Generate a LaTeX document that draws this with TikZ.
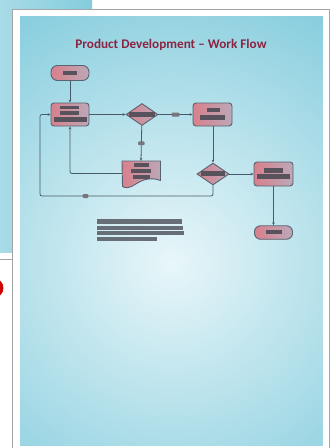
\documentclass[tikz,border=0pt]{standalone}
\usepackage{fontspec}
\setmainfont{Carlito}
\usetikzlibrary{shapes.geometric,arrows.meta}
\definecolor{bgblue}{RGB}{122,200,218}
\definecolor{bglight}{RGB}{232,246,249}
\definecolor{backl}{RGB}{168,219,230}
\definecolor{backr}{RGB}{132,205,221}
\definecolor{nodeL}{RGB}{216,128,140}
\definecolor{nodeR}{RGB}{188,168,184}
\definecolor{nodeB}{RGB}{88,98,112}
\definecolor{lineC}{RGB}{72,90,106}
\definecolor{blob}{RGB}{88,82,92}
\definecolor{para}{RGB}{104,110,118}
\definecolor{titleC}{RGB}{138,36,66}
\definecolor{frameC}{RGB}{165,165,165}
\tikzset{
  nodebase/.style={draw=nodeB, line width=0.9pt, left color=nodeL, right color=nodeR, inner sep=0pt},
  term/.style={nodebase, rectangle, rounded corners=6.5pt},
  procbox/.style={nodebase, rectangle, rounded corners=3pt},
  decision/.style={nodebase, diamond},
  conn/.style={draw=lineC, line width=0.8pt, -{Stealth[length=3pt,width=2.6pt]}, rounded corners=2pt},
  txtbar/.style={fill=blob, draw=none},
  elbl/.style={fill=blob!80, draw=none, inner sep=0pt, rounded corners=1pt},
  parabar/.style={fill=para, draw=none}
}
\begin{document}
\begin{tikzpicture}[x=1pt,y=-1pt]
\useasboundingbox (0,0) rectangle (335,448);
\fill[white] (0,0) rectangle (335,448);
% back page
\shade[left color=backl, right color=backr] (0,0) rectangle (92,252);
\draw[frameC, line width=0.8pt] (0,259) -- (12,259);
\fill[red!80!black] (-6,288) circle (9.5);
% main frame
\fill[white] (12,9) rectangle (330,452);
\draw[frameC, line width=0.8pt] (12,452) -- (12,9) -- (329.5,9) -- (329.5,452);
% blue page
\begin{scope}
\clip (20,16) rectangle (322.5,445);
\fill[bgblue] (20,16) rectangle (322.5,445);
\shade[inner color=bglight, outer color=bgblue] (172,262) circle (330);
\end{scope}
% title
\node (title) at (171,44.5) {\fontsize{13.2}{15}\selectfont\bfseries\color{titleC}Product Development – Work Flow};
% nodes
\node[term, minimum width=38pt, minimum height=15pt] (start) at (70,73) {};
\node[procbox, minimum width=38pt, minimum height=23pt] (b1) at (70,114.5) {};
\node[decision, minimum width=32pt, minimum height=22pt] (d1) at (142,114.5) {};
\node[procbox, minimum width=39pt, minimum height=23pt] (b2) at (212.5,114.5) {};
\node[decision, minimum width=32pt, minimum height=22pt] (d2) at (213,174) {};
\node[procbox, minimum width=39pt, minimum height=24pt] (b3) at (273.5,174) {};
\node[term, minimum width=38pt, minimum height=13.5pt, rounded corners=6pt] (end) at (273.5,232.5) {};
\node[draw=none, minimum width=38pt, minimum height=25pt, inner sep=0pt] (doc) at (141,173.5) {};
\path[nodebase] (122,161) -- (160.5,161) -- (160.5,180.5)
  .. controls (150,176.5) and (142,180) .. (135,184.5)
  .. controls (130,188) and (125,188.5) .. (122.5,186.5) -- cycle;
% text blobs in nodes
\fill[txtbar] (63,71) rectangle (77,75.2);
\fill[txtbar] (60,105.8) rectangle (79,109.4);
\fill[txtbar] (60,111.2) rectangle (79,115);
\fill[txtbar] (54,117.4) rectangle (86.7,122.2);
\fill[txtbar] (129,112.2) rectangle (154.5,116.5);
\fill[txtbar] (206.7,108.4) rectangle (220,112.4);
\fill[txtbar] (200,115) rectangle (225,119.7);
\fill[txtbar] (134,162.8) rectangle (148.7,166.8);
\fill[txtbar] (131,169) rectangle (151.3,173.3);
\fill[txtbar] (133.3,175.2) rectangle (150,178.5);
\fill[txtbar] (200.7,171.4) rectangle (225,176);
\fill[txtbar] (264,168.4) rectangle (283.3,172.7);
\fill[txtbar] (256.7,174.4) rectangle (290,179);
\fill[txtbar] (265.7,230.2) rectangle (281.7,234.2);
% connectors
\coordinate (loopA) at (40,196);
\draw[conn] (start) -- (b1);
\draw[conn] (b1) -- (d1);
\draw[conn] (d1) -- node[elbl, minimum width=8pt, minimum height=4pt] (l1) {} (b2);
\draw[conn] (d1) -- node[elbl, minimum width=6.5pt, minimum height=3.8pt] (l2) {} (doc.north);
\draw[conn] (b2.south -| d2.north) -- (d2.north);
\draw[conn] (doc.west) -| (b1.south);
\draw[conn] (d2) -- (b3);
\draw[conn] (d2.south) |- (loopA) |- (b1.west);
\node[elbl, minimum width=5.6pt, minimum height=4pt] (l3) at (85.5,196) {};
\draw[conn] (b3) -- (end);
% paragraph bars
\fill[parabar] (97.3,219.3) rectangle (182.3,224);
\fill[parabar] (97.3,225.7) rectangle (183.3,230);
\fill[parabar] (97.3,231.2) rectangle (184.3,235);
\fill[parabar] (97.3,236.7) rectangle (156.7,241);
\end{tikzpicture}
\end{document}
